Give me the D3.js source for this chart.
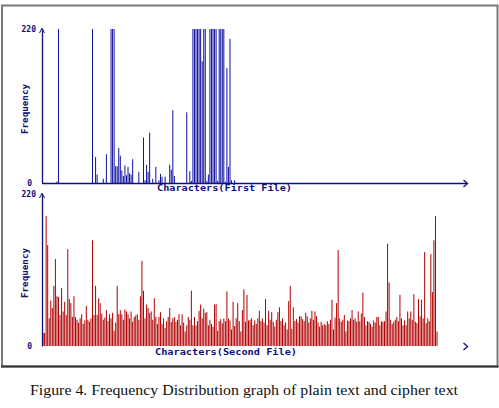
<!DOCTYPE html>
<html lang="en">
<head>
<meta charset="UTF-8">
<title>Frequency Distribution</title>
<script src="https://d3js.org/d3.v7.min.js"></script>
<style>
  body { margin: 0; background: #fff; }
</style>
</head>
<body>
<script>
var width = 499, height = 408;

// plain text file: character codes that occur, and their counts (all others 0)
var plainCodes  = [9, 10, 32, 34, 35, 39, 41, 44, 45, 46, 47, 48, 49, 50, 51, 52, 53, 54, 55, 56, 57, 58,
                   62, 65, 66, 67, 68, 69, 71, 73, 75, 76, 77, 79, 82, 83, 84, 85, 93, 95, 96,
                   97, 98, 99, 100, 101, 102, 103, 104, 105, 106, 107, 108, 109, 110, 111, 112, 113,
                   114, 115, 116, 117, 118, 119, 120, 121, 122, 124];
var plainCounts = [2, 250, 250, 37, 12, 6, 41, 250, 250, 250, 24, 24, 50, 39, 18, 10, 25, 11, 23, 14, 12, 34,
                   16, 65, 4, 26, 16, 72, 6, 23, 4, 13, 9, 9, 26, 19, 104, 10, 101, 17, 3,
                   250, 250, 250, 250, 250, 250, 174, 250, 250, 3, 12, 250, 250, 250, 250, 250, 3,
                   250, 250, 250, 250, 2, 164, 23, 206, 4, 4];

// cipher text file: count for every byte value 0..255
var cipherCounts = [
  19,19,188,146,40,66,55,87,126,72,
  71,45,84,50,64,45,140,68,62,42,
  72,42,38,34,40,46,32,37,58,38,
  35,40,153,45,87,45,69,62,47,38,
  41,52,36,46,40,48,22,34,87,46,
  52,46,38,53,50,46,40,50,35,42,
  44,46,38,72,123,80,40,60,55,48,
  50,38,69,42,32,42,49,32,40,26,
  36,42,55,35,40,42,35,38,46,30,
  46,34,21,30,42,38,80,30,42,30,
  36,51,60,40,54,48,49,30,38,32,
  28,60,61,22,36,39,33,40,36,79,
  40,37,24,64,29,40,62,36,21,52,
  82,35,74,37,38,40,30,37,32,40,
  51,36,40,34,68,30,51,38,49,35,
  28,38,49,56,36,40,30,34,24,65,
  87,25,56,36,39,34,43,43,39,36,
  48,43,34,40,51,38,50,43,34,28,
  35,30,32,30,36,32,38,67,24,41,
  62,139,40,35,38,45,21,37,36,40,
  52,38,40,35,50,36,47,77,42,30,
  36,35,32,28,37,34,42,42,30,36,
  35,36,50,148,92,38,32,35,38,42,
  36,74,40,30,37,30,50,40,50,38,
  75,35,33,68,43,67,40,136,33,40,
  36,133,78,153,188,21
];

var yTicks = [0, 220];
var xLabels = ["Characters(First File)", "Characters(Second File)"];
var yLabel = "Frequency";
var caption = "Figure 4. Frequency Distribution graph of plain text and cipher text";

var plainData = d3.range(256).map(function(c) {
  var k = plainCodes.indexOf(c);
  return { code: c, count: k < 0 ? 0 : plainCounts[k] };
});
var cipherData = cipherCounts.map(function(v, c) { return { code: c, count: v }; });

var navy = "#10107a";

var svg = d3.select("body").append("svg")
    .attr("width", width)
    .attr("height", height);

// window frame
svg.append("rect")
    .attr("x", 0).attr("y", 0).attr("width", width).attr("height", height)
    .attr("fill", "#fff");
svg.append("rect")
    .attr("x", 2).attr("y", 5.5).attr("width", 495.5).attr("height", 361)
    .attr("fill", "#fff")
    .attr("stroke", "#7a7a7a")
    .attr("stroke-width", 2);
svg.append("line")
    .attr("x1", 1).attr("x2", 498.5).attr("y1", 366.5).attr("y2", 366.5)
    .attr("stroke", "#333").attr("stroke-width", 2);

var x = d3.scaleLinear().domain([0, 256]).range([42.55, 42.55 + 1.545 * 256]);

var panels = [
  { data: plainData, color: "#1010a0", y0: 183, y1: 29, label: xLabels[0], labelX: 157, labelW: 135, labelY: 191, axisLine: true },
  { data: cipherData, color: "#b00000", y0: 346, y1: 194, label: xLabels[1], labelX: 155, labelW: 142, labelY: 355, axisLine: false }
];

panels.forEach(function(p) {
  var y = d3.scaleLinear().domain([0, 220]).range([p.y0, p.y1]).clamp(true);
  var g = svg.append("g");

  g.selectAll("rect.bar")
    .data(p.data.filter(function(d) { return d.count > 0; }))
    .join("rect")
      .attr("class", "bar")
      .attr("x", function(d) { return x(d.code); })
      .attr("width", 1)
      .attr("y", function(d) { return y(d.count); })
      .attr("height", function(d) { return y(0) - y(d.count); })
      .attr("fill", p.color);

  // y axis
  var yAxis = d3.axisLeft(y).tickValues(yTicks).tickSize(0).tickPadding(6).tickFormat(d3.format("d"));
  var ya = g.append("g")
      .attr("transform", "translate(42,0)")
      .call(yAxis);
  ya.select(".domain").attr("stroke", navy).attr("stroke-width", 1.3);
  ya.selectAll("text")
      .attr("fill", navy)
      .style("font-family", "DejaVu Sans Mono")
      .style("font-weight", "bold")
      .style("font-size", "8px");
  ya.selectAll(".tick").filter(function(d) { return d === 0; }).select("text").attr("x", -10);

  // arrow at top of y axis
  g.append("path")
      .attr("d", "M" + 39.5 + "," + (p.y1 + 4) + "L42," + (p.y1 - 1) + "L" + 44.5 + "," + (p.y1 + 4))
      .attr("fill", "none").attr("stroke", navy).attr("stroke-width", 1);

  // x axis line and arrow
  if (p.axisLine) {
    g.append("line")
        .attr("x1", 42).attr("x2", 467)
        .attr("y1", p.y0 + 0.5).attr("y2", p.y0 + 0.5)
        .attr("stroke", navy).attr("stroke-width", 1.3);
  }
  g.append("path")
      .attr("d", "M463.5," + (p.y0 - 3) + "L467.5," + (p.y0 + 0.5) + "L463.5," + (p.y0 + 4))
      .attr("fill", "none").attr("stroke", navy).attr("stroke-width", 1.3);

  // axis titles
  g.append("text")
      .attr("x", p.labelX).attr("y", p.labelY)
      .attr("textLength", p.labelW).attr("lengthAdjust", "spacingAndGlyphs")
      .attr("fill", navy)
      .style("font-family", "DejaVu Sans Mono")
      .style("font-weight", "bold")
      .style("font-size", "8px")
      .text(p.label);

  var midY = (p.y0 + p.y1) / 2 + 28;
  g.append("text")
      .attr("transform", "translate(28," + midY + ") rotate(-90)")
      .attr("textLength", 50).attr("lengthAdjust", "spacingAndGlyphs")
      .attr("fill", navy)
      .style("font-family", "DejaVu Sans Mono")
      .style("font-weight", "bold")
      .style("font-size", "8px")
      .text(yLabel);
});

svg.append("text")
    .attr("x", 30).attr("y", 395)
    .attr("textLength", 428).attr("lengthAdjust", "spacingAndGlyphs")
    .attr("fill", "#111")
    .style("font-family", "Liberation Serif")
    .style("font-size", "15.5px")
    .text(caption);
</script>
</body>
</html>
